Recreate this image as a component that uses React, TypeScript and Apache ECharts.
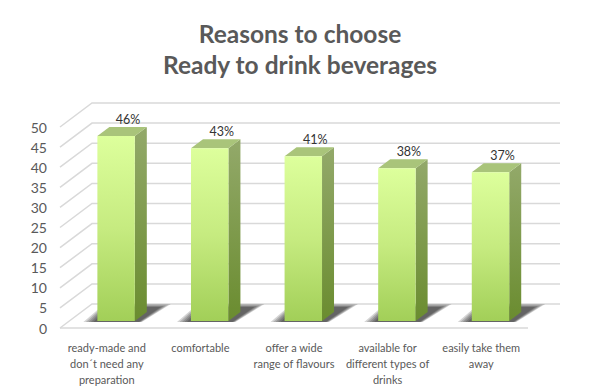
import React, { useEffect, useRef } from "react";
import * as echarts from "echarts";

const titleLines = ["Reasons to choose", "Ready to drink beverages"];
const categories = [
  "ready-made and\ndon´t need any\npreparation",
  "comfortable",
  "offer a wide\nrange of flavours",
  "available for\ndifferent types of\ndrinks",
  "easily take them\naway",
];
const values = [46, 43, 41, 38, 37];
const yTicks = [0, 5, 10, 15, 20, 25, 30, 35, 40, 45, 50];

const FONT = "Lato, 'Open Sans', sans-serif";
const WALL_DX = 32;
const WALL_DY = -24;
const BAR_FX = 9.3;
const BAR_FY = -7;
const BAR_DX = 12;
const BAR_DY = -9;

export default function App() {
  const ref = useRef<HTMLDivElement>(null);
  useEffect(() => {
    if (!ref.current) return;
    const chart = echarts.init(ref.current, null, { renderer: "svg" });
    const option: any = {
      animation: false,
      backgroundColor: "#ffffff",
      title: {
        text: titleLines.join("\n"),
        left: "center",
        top: 13,
        textStyle: {
          fontFamily: FONT,
          fontWeight: "bold",
          fontSize: 24.5,
          lineHeight: 31,
          color: "#595959",
        },
      },
      grid: { left: 60, top: 127, width: 468, height: 201 },
      xAxis: {
        type: "category",
        data: categories,
        axisLine: { show: false },
        axisTick: { show: false },
        axisLabel: {
          interval: 0,
          margin: 11,
          fontFamily: FONT,
          fontSize: 11,
          lineHeight: 16,
          color: "#595959",
        },
      },
      yAxis: {
        type: "value",
        min: 0,
        max: 50,
        interval: 5,
        axisLine: { show: false },
        axisTick: { show: false },
        splitLine: { show: false },
        axisLabel: {
          margin: 13,
          fontFamily: FONT,
          fontSize: 14,
          color: "#595959",
        },
      },
      series: [
        {
          type: "custom",
          clip: false,
          z: 1,
          silent: true,
          data: yTicks.map((v) => [0, v]),
          renderItem: (params: any, api: any) => {
            const v = api.value(1);
            const y = api.coord([0, v])[1];
            const cs = params.coordSys;
            const x0 = cs.x;
            const w = cs.width;
            const children: any[] = [
              {
                type: "polyline",
                shape: {
                  points: [
                    [x0, y],
                    [x0 + WALL_DX, y + WALL_DY],
                    [x0 + w + WALL_DX, y + WALL_DY],
                  ],
                },
                style: { stroke: "#d9d9d9", lineWidth: 1.5, fill: null },
              },
            ];
            if (v === 0) {
              children.push({
                type: "line",
                shape: { x1: x0, y1: y, x2: x0 + w, y2: y },
                style: { stroke: "#d9d9d9", lineWidth: 1.5 },
              });
            }
            return { type: "group", children };
          },
        },
        {
          type: "custom",
          clip: false,
          z: 2,
          data: values.map((v, i) => [i, v]),
          renderItem: (params: any, api: any) => {
            const idx = api.value(0);
            const v = api.value(1);
            const base = api.coord([idx, 0]);
            const top = api.coord([idx, v]);
            const band = api.size([1, 0])[0];
            const bw = band * 0.4;
            const L = base[0] - bw / 2 + BAR_FX;
            const R = L + bw;
            const yb = base[1] + BAR_FY;
            const yt = top[1] + BAR_FY;
            const shadows: any[] = [];
            for (let k = 0; k < 5; k++) {
              const e = 10 - k * 2.5;
              shadows.push({
                type: "polygon",
                shape: {
                  points: [
                    [L - 4 - e, yb + 1],
                    [R + 4 + e * 0.3, yb + 1],
                    [R + 26 + e, yb - 14 - e * 0.3],
                    [L + 10 - e * 0.3, yb - 14 - e * 0.3],
                  ],
                },
                style: { fill: "rgba(0,0,0,0.17)" },
              });
            }
            return {
              type: "group",
              children: [
                ...shadows,
                {
                  type: "polygon",
                  shape: {
                    points: [
                      [R, yt],
                      [R + BAR_DX, yt + BAR_DY],
                      [R + BAR_DX, yb + BAR_DY],
                      [R, yb],
                    ],
                  },
                  style: {
                    fill: {
                      type: "linear",
                      x: 0,
                      y: 0,
                      x2: 0,
                      y2: 1,
                      colorStops: [
                        { offset: 0, color: "#93a96a" },
                        { offset: 1, color: "#6a8c2f" },
                      ],
                    },
                  },
                },
                {
                  type: "polygon",
                  shape: {
                    points: [
                      [L, yt],
                      [L + BAR_DX, yt + BAR_DY],
                      [R + BAR_DX, yt + BAR_DY],
                      [R, yt],
                    ],
                  },
                  style: { fill: "#a9c47a" },
                },
                {
                  type: "rect",
                  shape: { x: L, y: yt, width: bw, height: yb - yt },
                  style: {
                    fill: {
                      type: "linear",
                      x: 0,
                      y: 0,
                      x2: 0,
                      y2: 1,
                      colorStops: [
                        { offset: 0, color: "#ddff9c" },
                        { offset: 0.5, color: "#c6eb80" },
                        { offset: 1, color: "#a2cf58" },
                      ],
                    },
                  },
                },
                {
                  type: "text",
                  style: {
                    text: v + "%",
                    x: L + bw / 2 + BAR_DX,
                    y: yt + BAR_DY - 8,
                    align: "center",
                    verticalAlign: "middle",
                    fontFamily: FONT,
                    fontSize: 12.5,
                    fill: "#333333",
                  },
                },
              ],
            };
          },
        },
      ],
    };
    chart.setOption(option);
    return () => chart.dispose();
  }, []);
  return (
    <div
      ref={ref}
      style={{ position: "fixed", left: 0, top: 0, width: 600, height: 392 }}
    />
  );
}
